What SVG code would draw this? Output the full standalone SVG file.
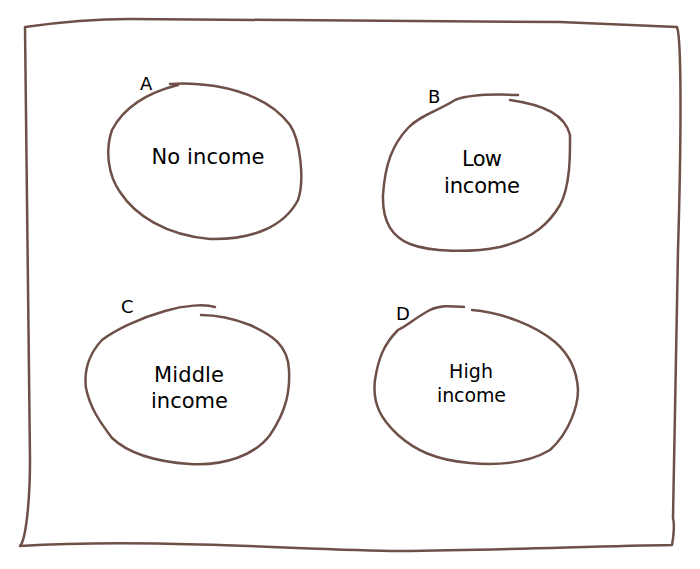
<svg xmlns="http://www.w3.org/2000/svg" width="700" height="569" viewBox="0 0 700 569">
<style>
.s{fill:none;stroke:#6e5048;stroke-width:2.5;stroke-linecap:round;stroke-linejoin:round}
.t{font-family:"DejaVu Sans",sans-serif;fill:#000;text-anchor:middle}
.l{font-family:"DejaVu Sans",sans-serif;fill:#000;font-size:18px}
</style>
<rect width="700" height="569" fill="#fff"/>
<g id="frame">
<path class="s" d="M25,27 C60,22 100,19 130,19 C250,21 400,22 560,22 L677,27 C682,40 681,150 678,250 C676,350 674,450 673,518 C675,525 673,540 672,545 C600,546 500,550 400,551 C300,550 150,538 20,546 C26,540 30,500 30,460 C29,300 27,150 25,27 Z"/>
</g>
<g id="nodeA">
<path class="s" d="M178,85 C150,92 125,105 112,130 C105,150 108,175 120,192 C135,215 165,235 210,239 C255,240 285,225 298,200 C305,180 300,140 290,125 C275,105 250,92 215,86 C195,83 180,83 170,84"/>
<text class="l" x="140" y="90">A</text>
<text class="t" x="208" y="164" font-size="21" textLength="113" lengthAdjust="spacing">No income</text>
</g>
<g id="nodeB">
<path class="s" d="M518,95 C495,94 470,94 455,100 C440,110 420,115 408,128 C392,145 385,165 383,195 C382,225 395,238 410,244 C430,252 470,253 500,247 C535,238 550,222 560,205 C571,185 570,150 570,135 C565,115 545,105 510,100"/>
<text class="l" x="428" y="103">B</text>
<text class="t" x="482" y="166" font-size="21" textLength="40" lengthAdjust="spacing">Low</text>
<text class="t" x="482" y="193" font-size="21" textLength="76" lengthAdjust="spacing">income</text>
</g>
<g id="nodeC">
<path class="s" d="M215,307 C205,304 185,305 165,311 C140,318 115,330 102,340 C88,355 84,372 86,388 C90,408 100,422 112,438 C130,455 160,462 190,464 C225,466 255,455 270,435 C287,410 290,390 289,370 C288,345 272,335 250,325 C232,318 215,315 201,315"/>
<text class="l" x="121" y="313">C</text>
<text class="t" x="189" y="382" font-size="21" textLength="70" lengthAdjust="spacing">Middle</text>
<text class="t" x="189.5" y="408" font-size="21" textLength="77" lengthAdjust="spacing">income</text>
</g>
<g id="nodeD">
<path class="s" d="M464,307 C450,306 440,305 430,310 C415,318 408,325 398,330 C383,345 378,360 375,380 C372,405 382,420 398,435 C415,450 435,460 470,463 C505,466 530,462 550,450 C570,432 578,405 578,390 C577,370 570,355 555,342 C535,325 500,312 472,310"/>
<text class="l" x="396" y="320">D</text>
<text class="t" x="471" y="378" font-size="19" textLength="44" lengthAdjust="spacing">High</text>
<text class="t" x="471.5" y="402" font-size="19" textLength="69" lengthAdjust="spacing">income</text>
</g>
<g id="connectors"></g>
</svg>
